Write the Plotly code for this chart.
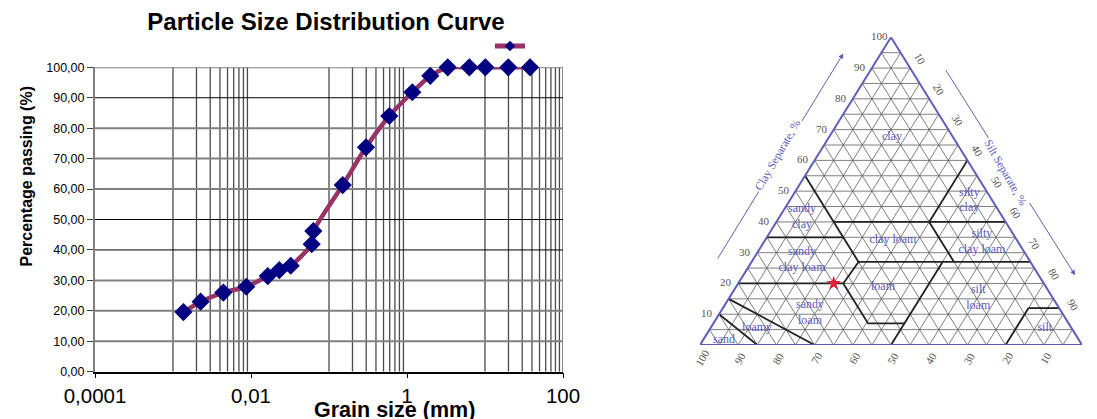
import plotly.graph_objects as go

# ---------------- Particle size distribution data ----------------
grain_size_mm = [0.00136, 0.00226, 0.00442, 0.0087, 0.0164, 0.0231, 0.0323,
                 0.0600, 0.0630, 0.150, 0.298, 0.593, 1.17, 1.99, 3.33,
                 6.30, 10.1, 19.9, 37.8]
percent_passing = [19.6, 23.0, 26.0, 27.9, 31.4, 33.4, 34.8,
                   41.9, 46.2, 61.3, 73.7, 84.0, 91.8, 97.2, 100.0,
                   100.0, 100.0, 100.0, 100.0]

x_tick_values = [0.0001, 0.01, 1, 100]
x_tick_labels = ["0,0001", "0,01", "1", "100"]
y_tick_values = [0, 10, 20, 30, 40, 50, 60, 70, 80, 90, 100]
y_tick_labels = ["0,00", "10,00", "20,00", "30,00", "40,00", "50,00",
                 "60,00", "70,00", "80,00", "90,00", "100,00"]

# vertical grid: decades that carry minor lines, plus frame
grid_decades = [0.001, 0.1, 10]
grid_multipliers = [1, 2, 3, 4, 5, 6, 7, 8, 9]
frame_right = [100]
h_grid_black = [40, 50, 90]
h_grid_grey = [10, 20, 30, 60, 70, 80, 100]

# ---------------- Soil texture triangle data ----------------
grid_pct = list(range(5, 100, 5))
outline_sand = [100, 0, 0, 100]
outline_clay = [0, 0, 100, 0]

# class boundaries as (sand %, clay %) polylines
bnd_sand_loamysand = [(85, 0), (90, 10)]
bnd_loamysand_sandyloam = [(70, 0), (85, 15)]
bnd_sandyloam_top = [(80, 20), (52.5, 20), (52.5, 7), (43, 7)]
bnd_silt50 = [(50, 0), (23, 27)]
bnd_loam_left = [(52.5, 20), (45, 27)]
bnd_clay27 = [(45, 27), (0, 27)]
bnd_scl_top = [(65, 35), (45, 35)]
bnd_sand45 = [(45, 27), (45, 55)]
bnd_clay40 = [(45, 40), (0, 40)]
bnd_sand20 = [(20, 27), (20, 40)]
bnd_silt40 = [(20, 40), (0, 60)]
bnd_silt_clay12 = [(8, 12), (0, 12)]
bnd_silt80 = [(20, 0), (8, 12)]
class_boundaries = [bnd_sand_loamysand, bnd_loamysand_sandyloam, bnd_sandyloam_top,
                    bnd_silt50, bnd_loam_left, bnd_clay27, bnd_scl_top, bnd_sand45,
                    bnd_clay40, bnd_sand20, bnd_silt40, bnd_silt_clay12, bnd_silt80]

class_names = ["clay", "silty<br>clay", "sandy<br>clay", "clay loam", "silty<br>clay loam",
               "sandy<br>clay loam", "loam", "silt<br>loam", "sandy<br>loam", "loamy",
               "sand", "silt"]
class_sand = [16, 6, 52.5, 32.5, 9.5, 59.5, 42.7, 19.5, 66, 82.3, 92.9, 7]
class_clay = [67.5, 47, 41.6, 34, 33.4, 27.6, 18.8, 15.3, 10.4, 5.5, 1.6, 5.5]

sample_sand = [55]
sample_clay = [20]

clay_axis_ticks = [10, 20, 30, 40, 50, 60, 70, 80, 90, 100]
silt_axis_ticks = [10, 20, 30, 40, 50, 60, 70, 80, 90]
sand_axis_ticks = [100, 90, 80, 70, 60, 50, 40, 30, 20, 10]

bullet_x = [-14.9]
bullet_y = [-11.7]

W, H = 1097, 419
LINE_C = "#993366"
MARK_C = "#000080"
TRI_C = "#5f5fb8"
TXT_C = "#5a5ac0"


def tern(sand, clay):
    return 100 - sand - clay / 2.0, clay


fig = go.Figure()

# ---- grid for the PSD chart ----
vx, vy = [], []
for d in grid_decades:
    for m in grid_multipliers:
        vx += [d * m, d * m, None]
        vy += [0, 100, None]
for r in frame_right:
    vx += [r, r, None]
    vy += [0, 100, None]
fig.add_trace(go.Scatter(x=vx, y=vy, mode="lines", line=dict(color="#4a4a4a", width=1.3),
                         hoverinfo="skip", showlegend=False, xaxis="x", yaxis="y"))
gx, gy = [], []
for v in h_grid_grey:
    gx += [0.0001, 100, None]
    gy += [v, v, None]
fig.add_trace(go.Scatter(x=gx, y=gy, mode="lines", line=dict(color="#808080", width=2),
                         hoverinfo="skip", showlegend=False, xaxis="x", yaxis="y"))
bx, by = [], []
for v in h_grid_black:
    bx += [0.0001, 100, None]
    by += [v, v, None]
fig.add_trace(go.Scatter(x=bx, y=by, mode="lines", line=dict(color="#000000", width=1),
                         hoverinfo="skip", showlegend=False, xaxis="x", yaxis="y"))

# ---- data series ----
fig.add_trace(go.Scatter(x=grain_size_mm, y=percent_passing, mode="lines+markers",
                         line=dict(color=LINE_C, width=4.5, shape="spline", smoothing=0.6),
                         marker=dict(symbol="diamond", size=14, color=MARK_C, line=dict(width=0)),
                         showlegend=False, cliponaxis=False, xaxis="x", yaxis="y"))
# legend key
fig.add_trace(go.Scatter(x=[None], y=[None], mode="lines+markers", name=" ",
                         line=dict(color=LINE_C, width=5),
                         marker=dict(symbol="diamond", size=8, color=MARK_C),
                         showlegend=True, xaxis="x", yaxis="y"))

# ---- soil texture triangle ----
tx, ty = [], []
for p in grid_pct:
    a = tern(100 - p, p); b = tern(0, p)
    tx += [a[0], b[0], None]; ty += [a[1], b[1], None]
    a = tern(p, 0); b = tern(p, 100 - p)
    tx += [a[0], b[0], None]; ty += [a[1], b[1], None]
    a = tern(100 - p, 0); b = tern(0, 100 - p)
    tx += [a[0], b[0], None]; ty += [a[1], b[1], None]
fig.add_trace(go.Scatter(x=tx, y=ty, mode="lines", line=dict(color="#5e5e5e", width=0.8),
                         hoverinfo="skip", showlegend=False, xaxis="x2", yaxis="y2"))

cx, cy = [], []
for poly in class_boundaries:
    for s, c in poly:
        xx, yy = tern(s, c)
        cx.append(xx); cy.append(yy)
    cx.append(None); cy.append(None)
fig.add_trace(go.Scatter(x=cx, y=cy, mode="lines", line=dict(color="#222222", width=1.8),
                         hoverinfo="skip", showlegend=False, xaxis="x2", yaxis="y2"))

ox = [tern(s, c)[0] for s, c in zip(outline_sand, outline_clay)]
oy = [tern(s, c)[1] for s, c in zip(outline_sand, outline_clay)]
fig.add_trace(go.Scatter(x=ox, y=oy, mode="lines", line=dict(color=TRI_C, width=2),
                         hoverinfo="skip", showlegend=False, xaxis="x2", yaxis="y2"))

lx = [tern(s, c)[0] for s, c in zip(class_sand, class_clay)]
ly = [tern(s, c)[1] for s, c in zip(class_sand, class_clay)]
fig.add_trace(go.Scatter(x=lx, y=ly, mode="text", text=class_names,
                         textfont=dict(family="Liberation Serif", size=12, color=TXT_C),
                         hoverinfo="skip", showlegend=False, xaxis="x2", yaxis="y2"))

spx = [tern(s, c)[0] for s, c in zip(sample_sand, sample_clay)]
spy = [tern(s, c)[1] for s, c in zip(sample_sand, sample_clay)]
fig.add_trace(go.Scatter(x=spx, y=spy, mode="markers",
                         marker=dict(symbol="star", size=11, color="#e0203a"),
                         hoverinfo="skip", showlegend=False, xaxis="x2", yaxis="y2"))

fig.add_trace(go.Scatter(x=bullet_x, y=bullet_y, mode="markers",
                         marker=dict(symbol="circle", size=6, color="#1f3b6e"),
                         cliponaxis=False, hoverinfo="skip", showlegend=False,
                         xaxis="x2", yaxis="y2"))

ann = []
num_font = dict(family="Liberation Serif", size=11, color="#555555")
for c in clay_axis_ticks:
    x0, y0 = tern(100 - c, c)
    ann.append(dict(x=x0, y=y0, xref="x2", yref="y2", text=str(c), showarrow=False,
                    xshift=-12, yshift=1, font=num_font))
for t in silt_axis_ticks:
    x0, y0 = tern(0, 100 - t)
    ann.append(dict(x=x0, y=y0, xref="x2", yref="y2", text=str(t), showarrow=False,
                    xshift=10, yshift=9, textangle=60, font=num_font))
for s in sand_axis_ticks:
    x0, y0 = tern(s, 0)
    ann.append(dict(x=x0, y=y0, xref="x2", yref="y2", text=str(s), showarrow=False,
                    xshift=2, yshift=-13, textangle=-60, font=num_font))

arrow_common = dict(xref="x2", yref="y2", axref="x2", ayref="y2", text="", showarrow=True,
                    arrowhead=2, arrowsize=1, arrowwidth=1, arrowcolor=TRI_C)
ann.append(dict(x=37.5, y=94.7, ax=4.4, ay=27.6, **arrow_common))
ann.append(dict(x=98.2, y=22.7, ax=64.1, ay=89.8, **arrow_common))
ann.append(dict(x=17.0, y=-8.1, ax=83.8, ay=-8.1, **arrow_common))
ttl_font = dict(family="Liberation Serif", size=11.5, color=TXT_C)
ann.append(dict(x=20.3, y=61.7, xref="x2", yref="y2", text="Clay Separate, %", showarrow=False,
                textangle=-60, bgcolor="white", font=ttl_font))
ann.append(dict(x=80.0, y=56.2, xref="x2", yref="y2", text="Silt Separate, %", showarrow=False,
                textangle=60, bgcolor="white", font=ttl_font))
ann.append(dict(x=50.6, y=-8.1, xref="x2", yref="y2", text="Sand Separate, %", showarrow=False,
                bgcolor="white", font=ttl_font))

# PSD chart titles
ann.append(dict(x=394 / W, y=(H - 410) / H, xref="paper", yref="paper",
                text="<b>Grain size (mm)</b>", showarrow=False, yanchor="middle",
                font=dict(family="Liberation Sans", size=21.5, color="black")))
ann.append(dict(x=16 / W, y=(H - 176) / H, xref="paper", yref="paper",
                text="<b>Percentage passing (%)</b>", showarrow=False, textangle=-90,
                font=dict(family="Liberation Sans", size=16, color="black")))

fig.update_layout(
    width=W, height=H,
    margin=dict(l=0, r=0, t=0, b=0, autoexpand=False),
    paper_bgcolor="white", plot_bgcolor="rgba(0,0,0,0)",
    title=dict(text="<b>Particle Size Distribution Curve</b>", x=326 / W, y=(H - 22) / H,
               xanchor="center", yanchor="middle",
               font=dict(family="Liberation Sans", size=24, color="black")),
    showlegend=True,
    legend=dict(x=490 / W, y=(H - 46) / H, xanchor="left", yanchor="middle",
                bgcolor="rgba(0,0,0,0)", font=dict(size=10), itemwidth=30),
    xaxis=dict(type="log", range=[-4, 2], domain=[95 / W, 563 / W], anchor="y", automargin=False,
               showgrid=False, zeroline=False, showline=True, linecolor="black", linewidth=1.5,
               tickvals=x_tick_values, ticktext=x_tick_labels, ticks="outside", ticklen=5,
               tickcolor="black", tickfont=dict(family="Liberation Sans", size=20.5, color="black")),
    yaxis=dict(range=[0, 100], domain=[(H - 371.7) / H, (H - 67.3) / H], anchor="x", automargin=False,
               showgrid=False, zeroline=False, showline=True, linecolor="#808080", linewidth=2,
               tickvals=y_tick_values, ticktext=y_tick_labels, ticks="outside", ticklen=6,
               tickcolor="#404040", tickfont=dict(family="Liberation Sans", size=12.5, color="black")),
    xaxis2=dict(range=[0, 100], domain=[700 / W, 1082 / W], anchor="y2", visible=False, automargin=False),
    yaxis2=dict(range=[0, 100], domain=[(H - 345) / H, (H - 37.3) / H], anchor="x2", visible=False,
                automargin=False),
    annotations=ann,
)

fig.write_html("out.html")
